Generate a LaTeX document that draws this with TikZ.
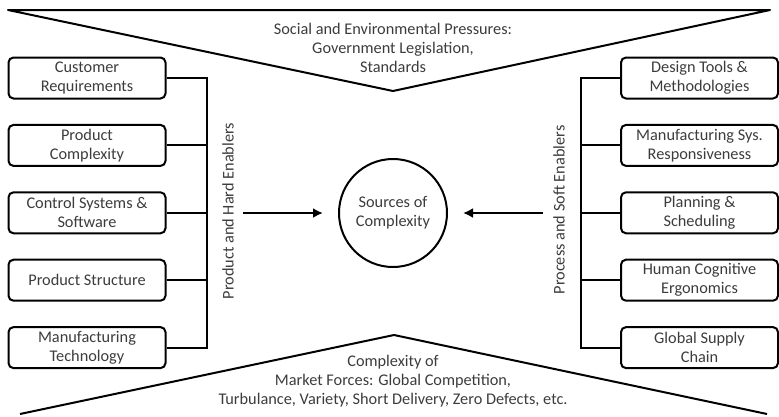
\documentclass[tikz,border=0pt]{standalone}
\usepackage{fontspec}
\setmainfont{Carlito}
\usepackage{xcolor}
\usepackage{tikz}
\usetikzlibrary{positioning,calc,arrows.meta}
\definecolor{txtgray}{RGB}{60,60,60}
\tikzset{
  enabler/.style={draw, rounded corners=5pt, line width=2pt, minimum width=157pt, minimum height=41pt, align=center, inner sep=1pt},
  arr/.style={-{Latex[length=10pt,width=10pt]}, line width=2pt},
  bus/.style={line width=2pt},
}
\begin{document}
\begin{tikzpicture}[x=1pt,y=-1pt,font=\fontsize{16.3}{19}\selectfont,text=txtgray]
    \useasboundingbox (0,0) rectangle (779,416);
    % pressures from above and below
    \draw[line width=2pt, line join=round] (8,10) -- (770,10) -- (393,91) -- cycle;
    \draw[line width=2pt, line join=round] (20,414) -- (394,335) -- (767,414);
    \node[align=center] (social) at (393,48) {Social and Environmental Pressures:\\Government Legislation,\\Standards};
    \node[align=center] (market) at (393,381) {Complexity of\\Market Forces: Global Competition,\\Turbulance, Variety, Short Delivery, Zero Defects, etc.};
    % centre
    \node[draw, circle, line width=2pt, minimum size=108pt, align=center] (core) at (393,213) {Sources of\\Complexity};
    % product and hard enablers
    \foreach \t [count=\i] in {{Customer\\Requirements},{Product\\Complexity},{Control Systems \&\\Software},{Product Structure},{Manufacturing\\Technology}}
        \node[enabler] (lb\i) at (87,{78+67.4*(\i-1)}) {\t};
    \coordinate (lbus) at (207,0);
    \draw[bus] (lb1.east) -- (lb1.east -| lbus) -- (lb5.east -| lbus) -- (lb5.east);
    \foreach \i in {2,3,4} \draw[bus] (lb\i.east) -- (lb\i.east -| lbus);
    \node[rotate=90] (lhard) at (228,211) {Product and Hard Enablers};
    \coordinate (lstart) at (243,213);
    \draw[arr, shorten >=15pt] (lstart) -- (core.west);
    % process and soft enablers
    \foreach \t [count=\i] in {{Design Tools \&\\Methodologies},{Manufacturing Sys.\\Responsiveness},{Planning \&\\Scheduling},{Human Cognitive\\Ergonomics},{Global Supply\\Chain}}
        \node[enabler] (rb\i) at (699.5,{78+67.4*(\i-1)}) {\t};
    \coordinate (rbus) at (581,0);
    \draw[bus] (rb1.west) -- (rb1.west -| rbus) -- (rb5.west -| rbus) -- (rb5.west);
    \foreach \i in {2,3,4} \draw[bus] (rb\i.west) -- (rb\i.west -| rbus);
    \node[rotate=90] (rsoft) at (559,210) {Process and Soft Enablers};
    \coordinate (rstart) at (543,213);
    \draw[arr, shorten >=15pt] (rstart) -- (core.east);
\end{tikzpicture}
\end{document}
